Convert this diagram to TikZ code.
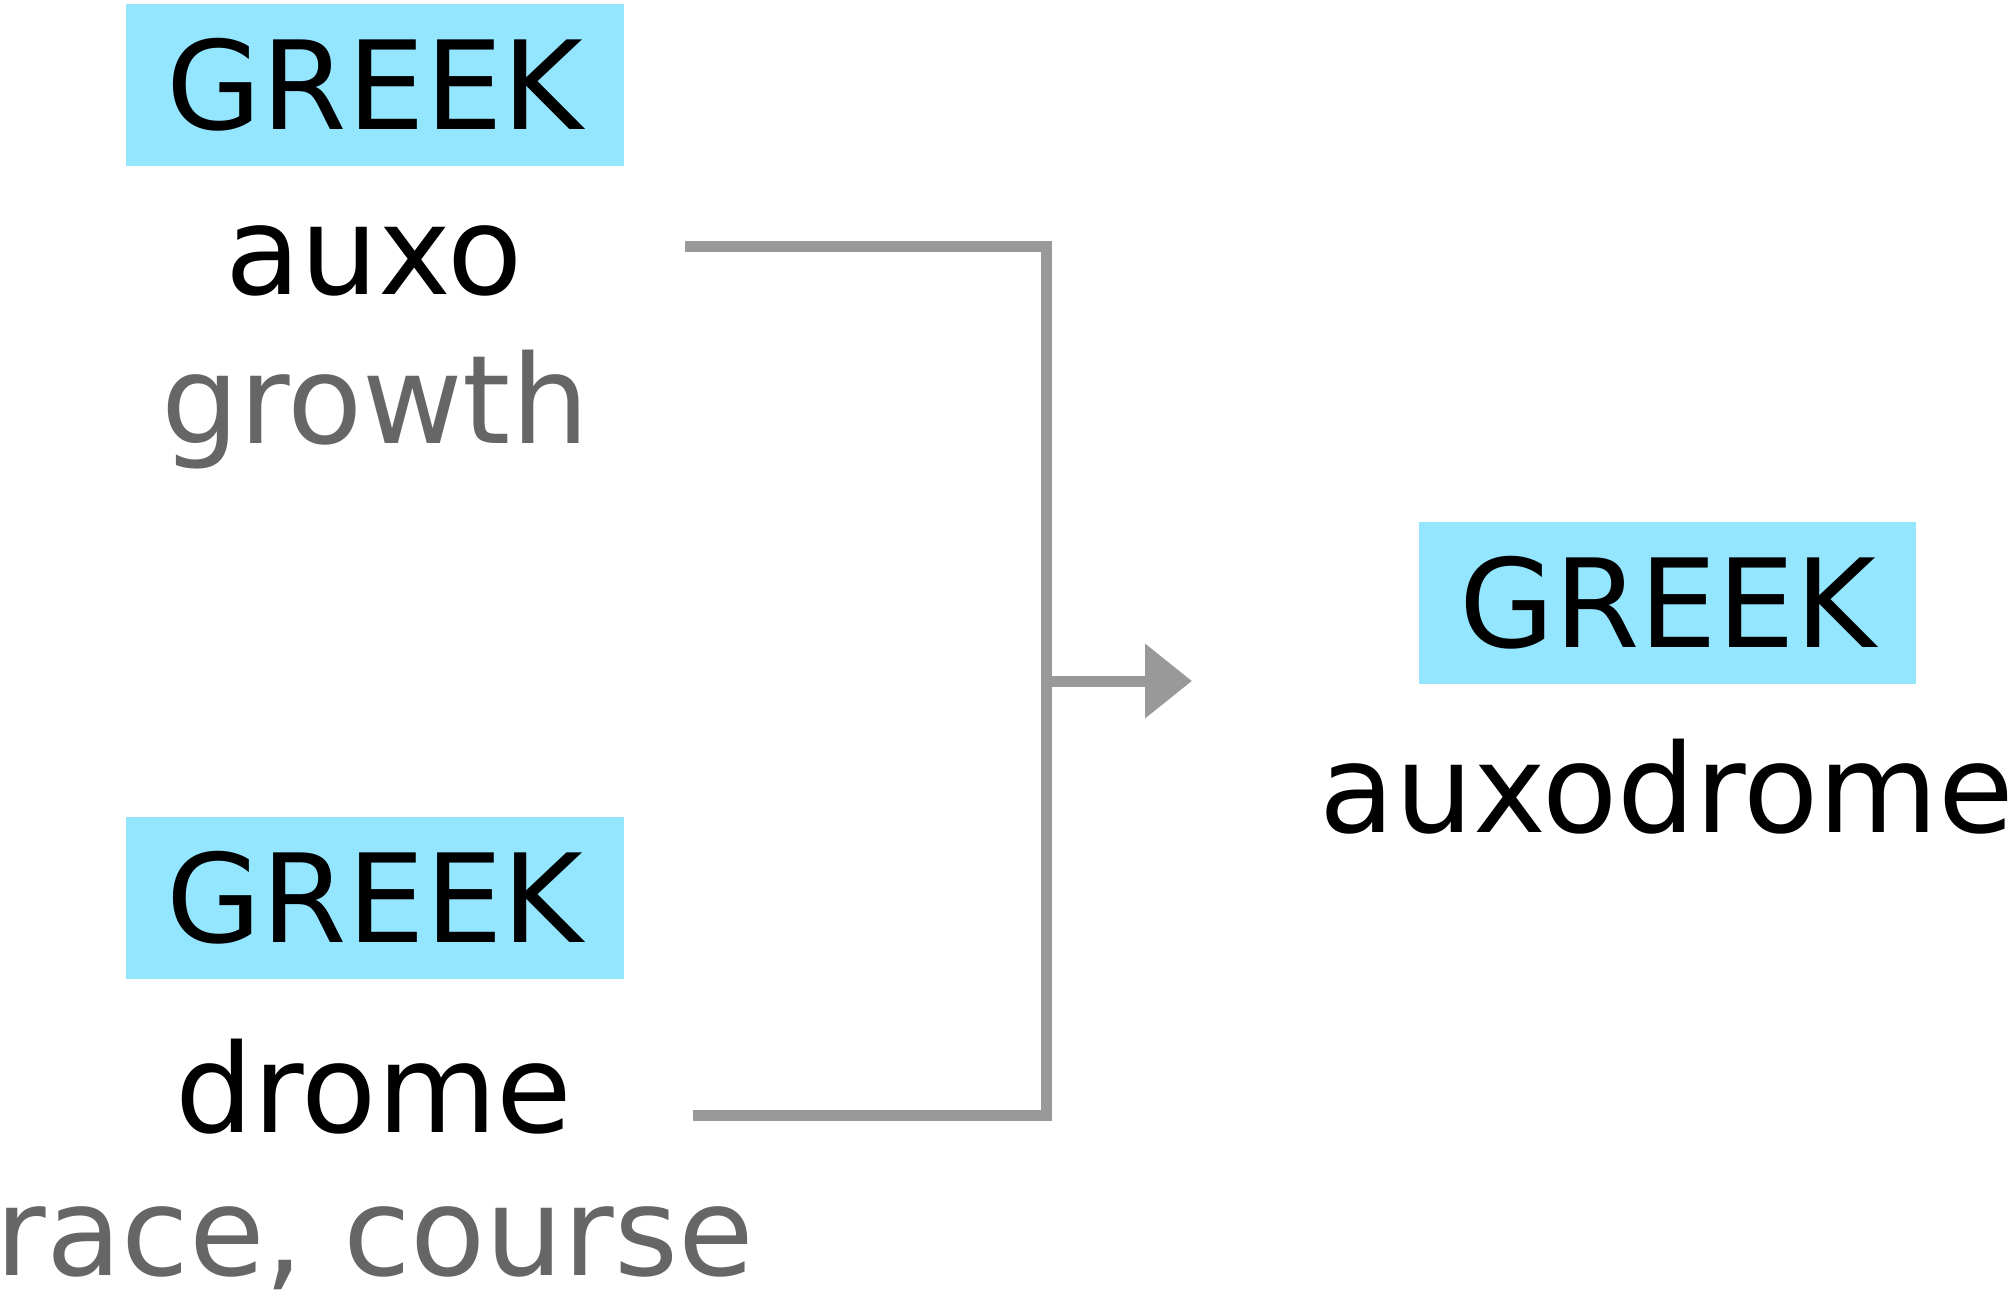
\documentclass[tikz,border=0pt]{standalone}
\usepackage{fontspec}
\setmainfont{DejaVu Sans}
\usetikzlibrary{arrows.meta, positioning}
\definecolor{langblue}{HTML}{94E6FF}
\definecolor{glossgrey}{HTML}{666666}
\definecolor{linkgrey}{HTML}{999999}

\begin{document}
\begin{tikzpicture}[
    x=0.02cm, y=-0.02cm,
    lang/.style={rectangle, fill=langblue, minimum width=9.96cm, minimum height=3.24cm, inner sep=0pt, font=\fontsize{70}{84}\selectfont},
    word/.style={anchor=base, inner sep=0pt, font=\fontsize{70}{84}\selectfont},
    gloss/.style={word, text=glossgrey},
    link/.style={draw=linkgrey, line width=0.22cm},
    arrow/.style={link, -{Triangle[length=0.94cm, width=1.44cm]}}
  ]
    \useasboundingbox (0,0) rectangle (2014,1299);
    % first part
    \node[lang] (greekA) at (375,85) {GREEK};
    \node[word] (auxo) at (374,294) {auxo};
    \node[gloss] (growth) at (375,443) {growth};
    % second part
    \node[lang] (greekB) at (375,897.5) {GREEK};
    \node[word] (drome) at (374,1132) {drome};
    \node[gloss] (race) at (375,1275) {race, course};
    % result
    \node[lang] (greekC) at (1667.5,603) {GREEK};
    \node[word] (auxodrome) at (1667,832) {auxodrome};
    % bracket and arrow
    \coordinate (auxoend) at (685,246);
    \coordinate (dromeend) at (693,1115);
    \coordinate (join) at (1046,681);
    \coordinate (tip) at (1192,681);
    \draw[link] (auxoend) -| (join) |- (dromeend);
    \draw[arrow] (join) -- (tip);
  \end{tikzpicture}
\end{document}
